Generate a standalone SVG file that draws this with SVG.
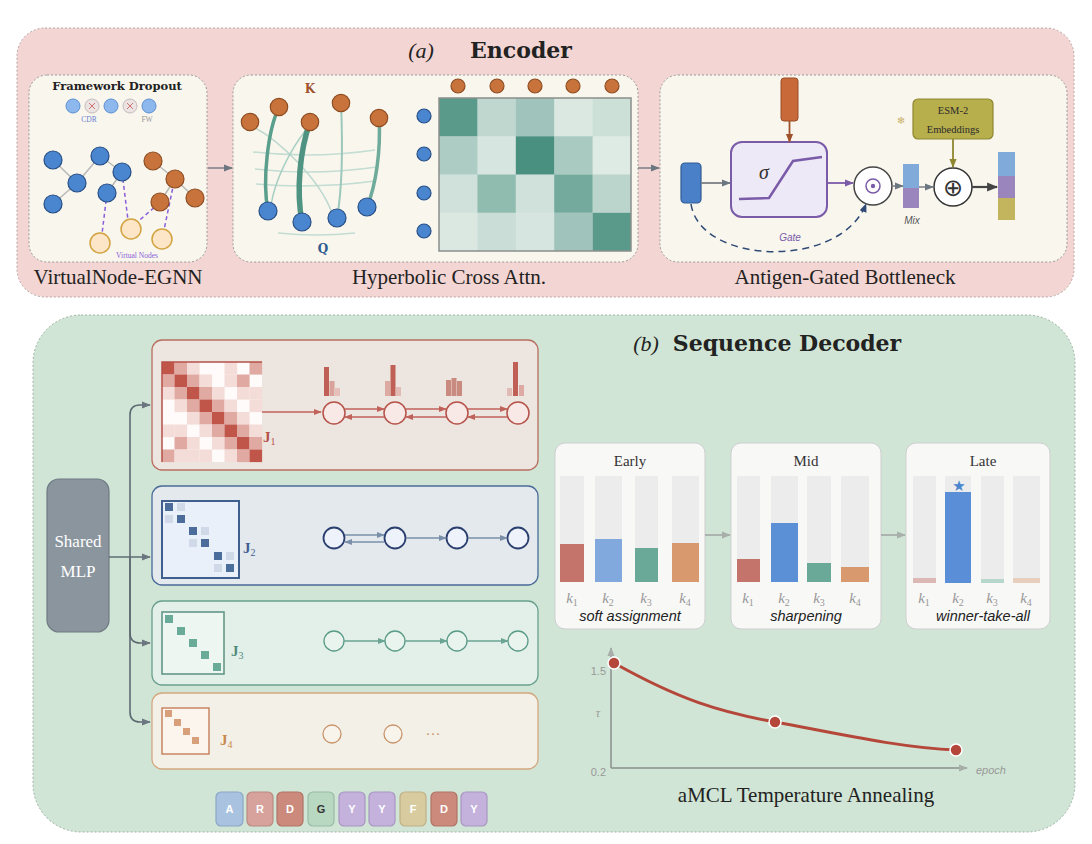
<svg xmlns="http://www.w3.org/2000/svg" width="1092" height="844" viewBox="0 0 1092 844">
<defs>
<style>
.serif{font-family:"Liberation Serif","DejaVu Serif",serif}
.bold{font-family:"DejaVu Serif","Liberation Serif",serif;font-weight:bold}
.sans{font-family:"Liberation Sans",Arial,sans-serif}
.sub{fill:#f9f6ee;stroke:#9a9a9a;stroke-width:1;stroke-dasharray:2 2}
.lbl{font-family:"Liberation Serif","DejaVu Serif",serif;font-size:21px;fill:#222;text-anchor:middle}
.on{fill:#c8733c;stroke:#8f4d22;stroke-width:1.2}
.bn{fill:#4a86d0;stroke:#274f85;stroke-width:1.2}
.vn{fill:#fde6c8;stroke:#d2a441;stroke-width:1.5}
.edge{stroke:#b8b8b8;stroke-width:1.5}
.vdash{stroke:#8a5fd8;stroke-width:1.5;stroke-dasharray:4 3;fill:none}
.geo{fill:none;stroke:#c3ddd3;stroke-width:1.5}
.r1{fill:#f4dcd8}.r2{fill:#e0a9a1}.r4{fill:#c0554a}
.att{fill:#3f8a79}
.bg{fill:#ececec}
.k{font-family:"Liberation Serif","DejaVu Serif",serif;font-style:italic;font-size:15px;fill:#999;text-anchor:middle}
.cap{font-family:"Liberation Sans",Arial,sans-serif;font-style:italic;font-size:14.5px;fill:#222;text-anchor:middle}
.stage{fill:#f8f8f7;stroke:#cfcfcf;stroke-width:1}
.tok{stroke-width:1.2}
.tl{font-family:"Liberation Sans",Arial,sans-serif;font-weight:bold;font-size:11px;fill:#fff;text-anchor:middle}
</style>
<marker id="aGray" viewBox="0 0 10 10" refX="9" refY="5" markerWidth="9" markerHeight="9" markerUnits="userSpaceOnUse" orient="auto"><path d="M0,1 L10,5 L0,9 z" fill="#6b7680"/></marker>
<marker id="aLight" viewBox="0 0 10 10" refX="9" refY="5" markerWidth="9" markerHeight="9" markerUnits="userSpaceOnUse" orient="auto"><path d="M0,1 L10,5 L0,9 z" fill="#a8aeaa"/></marker>
<marker id="aRed" viewBox="0 0 10 10" refX="9" refY="5" markerWidth="8" markerHeight="8" markerUnits="userSpaceOnUse" orient="auto"><path d="M0,1 L10,5 L0,9 z" fill="#c0625a"/></marker>
<marker id="aBlue" viewBox="0 0 10 10" refX="9" refY="5" markerWidth="8" markerHeight="8" markerUnits="userSpaceOnUse" orient="auto"><path d="M0,1 L10,5 L0,9 z" fill="#7a8fa8"/></marker>
<marker id="aTeal" viewBox="0 0 10 10" refX="9" refY="5" markerWidth="8" markerHeight="8" markerUnits="userSpaceOnUse" orient="auto"><path d="M0,1 L10,5 L0,9 z" fill="#6aa494"/></marker>
<marker id="aPurple" viewBox="0 0 10 10" refX="9" refY="5" markerWidth="9" markerHeight="9" markerUnits="userSpaceOnUse" orient="auto"><path d="M0,1 L10,5 L0,9 z" fill="#7a5ba8"/></marker>
<marker id="aOlive" viewBox="0 0 10 10" refX="9" refY="5" markerWidth="9" markerHeight="9" markerUnits="userSpaceOnUse" orient="auto"><path d="M0,1 L10,5 L0,9 z" fill="#8e8730"/></marker>
<marker id="aBrown" viewBox="0 0 10 10" refX="9" refY="5" markerWidth="9" markerHeight="9" markerUnits="userSpaceOnUse" orient="auto"><path d="M0,1 L10,5 L0,9 z" fill="#a0522d"/></marker>
<marker id="aDark" viewBox="0 0 10 10" refX="9" refY="5" markerWidth="11" markerHeight="11" markerUnits="userSpaceOnUse" orient="auto"><path d="M0,1 L10,5 L0,9 z" fill="#444"/></marker>
<marker id="aNavy" viewBox="0 0 10 10" refX="9" refY="5" markerWidth="9" markerHeight="9" markerUnits="userSpaceOnUse" orient="auto"><path d="M0,1 L10,5 L0,9 z" fill="#2f4a75"/></marker>
</defs>

<rect width="1092" height="844" fill="#ffffff"/>

<!-- Encoder panel -->
<g id="encoder-panel">
<rect x="17" y="28" width="1057" height="269" rx="28" fill="#f3d6d3" stroke="#b9a3a3" stroke-width="1" stroke-dasharray="2 2"/>
<text x="421" y="58" class="serif" font-size="22" font-style="italic" text-anchor="middle" fill="#222">(a)</text>
<text x="521" y="58" class="bold" font-size="22" text-anchor="middle" fill="#222">Encoder</text>
</g>

<g id="egnn">
<rect class="sub" x="29" y="75" width="178" height="187" rx="18"/>
<text x="117" y="90" class="bold" font-size="11.5" text-anchor="middle" fill="#222">Framework Dropout</text>
<circle cx="73" cy="106" r="7" fill="#8cb8ee" stroke="#5d8fd0"/>
<circle cx="92" cy="106" r="7" fill="#ebe4e2" stroke="#c4bcbc"/>
<path d="M89,103 L95,109 M95,103 L89,109" stroke="#d07070" stroke-width="1"/>
<circle cx="111" cy="106" r="7" fill="#8cb8ee" stroke="#5d8fd0"/>
<circle cx="130" cy="106" r="7" fill="#ebe4e2" stroke="#c4bcbc"/>
<path d="M127,103 L133,109 M133,103 L127,109" stroke="#d07070" stroke-width="1"/>
<circle cx="149" cy="106" r="7" fill="#8cb8ee" stroke="#5d8fd0"/>
<text x="89" y="122" class="serif" font-size="7.5" text-anchor="middle" fill="#6a7fd0">CDR</text>
<text x="147" y="122" class="serif" font-size="7.5" text-anchor="middle" fill="#999">FW</text>
<g class="edge">
<line x1="53" y1="160" x2="77" y2="183"/><line x1="77" y1="183" x2="100" y2="156"/><line x1="77" y1="183" x2="53" y2="204"/>
<line x1="100" y1="156" x2="122" y2="172"/><line x1="122" y1="172" x2="107" y2="193"/>
<line x1="153" y1="161" x2="175" y2="179"/><line x1="175" y1="179" x2="195" y2="198"/><line x1="175" y1="179" x2="160" y2="202"/>
</g>
<path class="vdash" d="M107,193 L102,234 M122,172 L128,220 M135,224 L156,206 M174,182 L164,230"/>
<circle class="bn" cx="53" cy="160" r="9"/><circle class="bn" cx="100" cy="156" r="9"/><circle class="bn" cx="77" cy="183" r="9"/>
<circle class="bn" cx="53" cy="204" r="9"/><circle class="bn" cx="122" cy="172" r="9"/><circle class="bn" cx="107" cy="193" r="9"/>
<circle class="on" cx="153" cy="161" r="9"/><circle class="on" cx="175" cy="179" r="9"/><circle class="on" cx="195" cy="198" r="9"/><circle class="on" cx="160" cy="202" r="9"/>
<circle class="vn" cx="100" cy="243" r="10"/><circle class="vn" cx="131" cy="229" r="10"/><circle class="vn" cx="162" cy="239" r="10"/>
<text x="137" y="258" class="serif" font-size="7.5" text-anchor="middle" fill="#8a5fd8">Virtual Nodes</text>
<text x="118" y="284" class="lbl">VirtualNode-EGNN</text>
</g>

<g id="hyperbolic">
<rect class="sub" x="233" y="75" width="405" height="187" rx="18"/>
<text x="310" y="93" class="bold" font-size="12" text-anchor="middle" fill="#a0522d">K</text>
<path class="geo" d="M253,152 Q314,159 375,150 M255,169 Q314,176 377,167 M256,184 Q316,189 375,181 M278,233 Q316,237 355,233"/>
<path d="M250,125 C280,140 320,180 332,213" fill="none" stroke="#bcd8ce" stroke-width="1.5"/>
<path d="M306,130 C290,150 275,180 271,205" fill="none" stroke="#a9cfc3" stroke-width="1.5"/>
<path d="M341,103 C343,150 342,190 337,218" fill="none" stroke="#9cc8bb" stroke-width="2"/>
<path d="M279,107 C268,130 262,180 268,211" fill="none" stroke="#5a9e8c" stroke-width="3.5"/>
<path d="M310,122 C300,150 296,190 302,222" fill="none" stroke="#4f9482" stroke-width="5.5"/>
<path d="M379,118 C381,150 376,185 367,207" fill="none" stroke="#6fab9b" stroke-width="3.5"/>
<circle class="on" cx="250" cy="122" r="8.7"/><circle class="on" cx="279" cy="107" r="8.7"/><circle class="on" cx="310" cy="122" r="8.7"/>
<circle class="on" cx="341" cy="103" r="8.7"/><circle class="on" cx="379" cy="118" r="8.7"/>
<circle class="bn" cx="268" cy="211" r="9"/><circle class="bn" cx="302" cy="222" r="9"/><circle class="bn" cx="337" cy="218" r="9"/><circle class="bn" cx="367" cy="207" r="9"/>
<text x="323" y="253" class="bold" font-size="12" text-anchor="middle" fill="#2f5a90">Q</text>
<rect x="439" y="98" width="192" height="153" fill="#f1f5f1"/>
<rect class="att" x="439" y="98" width="38.4" height="38.25" fill-opacity="0.85"/>
<rect class="att" x="477.4" y="98" width="38.4" height="38.25" fill-opacity="0.28"/>
<rect class="att" x="515.8" y="98" width="38.4" height="38.25" fill-opacity="0.45"/>
<rect class="att" x="554.2" y="98" width="38.4" height="38.25" fill-opacity="0.12"/>
<rect class="att" x="592.6" y="98" width="38.4" height="38.25" fill-opacity="0.2"/>
<rect class="att" x="439" y="136.25" width="38.4" height="38.25" fill-opacity="0.38"/>
<rect class="att" x="477.4" y="136.25" width="38.4" height="38.25" fill-opacity="0.15"/>
<rect class="att" x="515.8" y="136.25" width="38.4" height="38.25" fill-opacity="0.95"/>
<rect class="att" x="554.2" y="136.25" width="38.4" height="38.25" fill-opacity="0.4"/>
<rect class="att" x="592.6" y="136.25" width="38.4" height="38.25" fill-opacity="0.1"/>
<rect class="att" x="439" y="174.5" width="38.4" height="38.25" fill-opacity="0.18"/>
<rect class="att" x="477.4" y="174.5" width="38.4" height="38.25" fill-opacity="0.55"/>
<rect class="att" x="515.8" y="174.5" width="38.4" height="38.25" fill-opacity="0.18"/>
<rect class="att" x="554.2" y="174.5" width="38.4" height="38.25" fill-opacity="0.7"/>
<rect class="att" x="592.6" y="174.5" width="38.4" height="38.25" fill-opacity="0.3"/>
<rect class="att" x="439" y="212.75" width="38.4" height="38.25" fill-opacity="0.12"/>
<rect class="att" x="477.4" y="212.75" width="38.4" height="38.25" fill-opacity="0.22"/>
<rect class="att" x="515.8" y="212.75" width="38.4" height="38.25" fill-opacity="0.15"/>
<rect class="att" x="554.2" y="212.75" width="38.4" height="38.25" fill-opacity="0.45"/>
<rect class="att" x="592.6" y="212.75" width="38.4" height="38.25" fill-opacity="0.85"/>
<rect x="439" y="98" width="192" height="153" fill="none" stroke="#8a8f8c" stroke-width="1.5"/>
<circle class="on" cx="458" cy="86" r="7"/><circle class="on" cx="497" cy="86" r="7"/><circle class="on" cx="535" cy="86" r="7"/><circle class="on" cx="573" cy="86" r="7"/><circle class="on" cx="612" cy="86" r="7"/>
<circle class="bn" cx="424" cy="116" r="7"/><circle class="bn" cx="424" cy="154" r="7"/><circle class="bn" cx="424" cy="193" r="7"/><circle class="bn" cx="424" cy="231" r="7"/>
<text x="449" y="284" class="lbl">Hyperbolic Cross Attn.</text>
</g>

<g id="bottleneck">
<rect class="sub" x="660" y="75" width="407" height="187" rx="18"/>
<rect x="781" y="78" width="17" height="43" rx="3" fill="#c8693a" stroke="#9a4d25" stroke-width="1"/>
<rect x="731" y="142" width="96" height="75" rx="11" fill="#eee9f6" stroke="#7a5ba8" stroke-width="2"/>
<text x="764" y="179" class="serif" font-size="20" font-style="italic" fill="#333" text-anchor="middle">σ</text>
<path d="M739,199 L769,198 L793,161 L822,157" fill="none" stroke="#7a5ba8" stroke-width="2.5"/>
<rect x="681" y="163" width="20" height="40" rx="4" fill="#4a80c8" stroke="#2f5a95" stroke-width="1.2"/>
<circle cx="873" cy="186" r="19" fill="#fff" stroke="#444" stroke-width="1.5"/>
<circle cx="873" cy="186" r="7" fill="none" stroke="#7a5ba8" stroke-width="1.5"/>
<circle cx="873" cy="186" r="2.2" fill="#7a5ba8"/>
<text x="790" y="241" class="sans" font-size="10" font-style="italic" text-anchor="middle" fill="#7a5ba8">Gate</text>
<rect x="903" y="164" width="16" height="24" fill="#7faad9"/>
<rect x="903" y="188" width="16" height="20" fill="#9a86bd"/>
<text x="912" y="224" class="sans" font-size="10" font-style="italic" text-anchor="middle" fill="#555">Mix</text>
<circle cx="953" cy="187" r="19" fill="#fff" stroke="#333" stroke-width="1.5"/>
<text x="953" y="196" font-family="DejaVu Sans,sans-serif" font-size="24" text-anchor="middle" fill="#333">⊕</text>
<rect x="913" y="99" width="80" height="40" rx="5" fill="#b7ae4c" stroke="#8e8730" stroke-width="1.2"/>
<text x="953" y="114" class="serif" font-size="10.5" text-anchor="middle" fill="#2a2a2a">ESM-2</text>
<text x="953" y="133" class="serif" font-size="10.5" text-anchor="middle" fill="#2a2a2a">Embeddings</text>
<text x="901" y="124" font-family="DejaVu Sans,sans-serif" font-size="10" text-anchor="middle" fill="#c9b26a">❄</text>
<rect x="998" y="152" width="17" height="24" fill="#7faad9"/>
<rect x="998" y="176" width="17" height="22" fill="#9a86bd"/>
<rect x="998" y="198" width="17" height="22" fill="#c3b55e"/>
<text x="845" y="284" class="lbl">Antigen-Gated Bottleneck</text>
</g>

<!-- Decoder panel -->
<g id="decoder-panel">
<rect x="33" y="315" width="1042" height="517" rx="48" fill="#d0e5d5" stroke="#9fb3a6" stroke-width="1" stroke-dasharray="2 2"/>
<text x="646" y="351" class="serif" font-size="22" font-style="italic" text-anchor="middle" fill="#222">(b)</text>
<text x="787" y="351" class="bold" font-size="22" text-anchor="middle" fill="#222">Sequence Decoder</text>
</g>

<g id="shared-mlp">
<rect x="47" y="479" width="62" height="153" rx="12" fill="#8a959e" stroke="#6f7a83" stroke-width="1.2"/>
<text x="78" y="547" class="serif" font-size="17" text-anchor="middle" fill="#fff">Shared</text>
<text x="78" y="577" class="serif" font-size="17" text-anchor="middle" fill="#fff">MLP</text>
</g>

<g id="j1-head">
<rect x="152" y="340" width="386" height="130" rx="10" fill="#ede5df" stroke="#b86e60" stroke-width="1.3"/>
<rect x="162" y="362" width="100" height="100" fill="#fefbfa"/>
<rect class="r4" x="162" y="362" width="12.6" height="12.6"/><rect class="r2" x="174.5" y="362" width="12.6" height="12.6"/><rect class="r1" x="187" y="362" width="12.6" height="12.6"/><rect class="r1" x="224.5" y="362" width="12.6" height="12.6"/><rect class="r2" x="249.5" y="362" width="12.6" height="12.6"/>
<rect class="r2" x="162" y="374.5" width="12.6" height="12.6"/><rect class="r4" x="174.5" y="374.5" width="12.6" height="12.6"/><rect class="r2" x="187" y="374.5" width="12.6" height="12.6"/><rect class="r1" x="199.5" y="374.5" width="12.6" height="12.6"/><rect class="r1" x="224.5" y="374.5" width="12.6" height="12.6"/><rect class="r2" x="237" y="374.5" width="12.6" height="12.6"/>
<rect class="r1" x="162" y="387" width="12.6" height="12.6"/><rect class="r2" x="174.5" y="387" width="12.6" height="12.6"/><rect class="r4" x="187" y="387" width="12.6" height="12.6"/><rect class="r2" x="199.5" y="387" width="12.6" height="12.6"/><rect class="r1" x="212" y="387" width="12.6" height="12.6"/><rect class="r1" x="237" y="387" width="12.6" height="12.6"/><rect class="r1" x="249.5" y="387" width="12.6" height="12.6"/>
<rect class="r1" x="174.5" y="399.5" width="12.6" height="12.6"/><rect class="r2" x="187" y="399.5" width="12.6" height="12.6"/><rect class="r4" x="199.5" y="399.5" width="12.6" height="12.6"/><rect class="r2" x="212" y="399.5" width="12.6" height="12.6"/><rect class="r1" x="224.5" y="399.5" width="12.6" height="12.6"/><rect class="r1" x="249.5" y="399.5" width="12.6" height="12.6"/>
<rect class="r1" x="187" y="412" width="12.6" height="12.6"/><rect class="r2" x="199.5" y="412" width="12.6" height="12.6"/><rect class="r4" x="212" y="412" width="12.6" height="12.6"/><rect class="r2" x="224.5" y="412" width="12.6" height="12.6"/><rect class="r1" x="237" y="412" width="12.6" height="12.6"/>
<rect class="r1" x="162" y="424.5" width="12.6" height="12.6"/><rect class="r1" x="174.5" y="424.5" width="12.6" height="12.6"/><rect class="r1" x="199.5" y="424.5" width="12.6" height="12.6"/><rect class="r2" x="212" y="424.5" width="12.6" height="12.6"/><rect class="r4" x="224.5" y="424.5" width="12.6" height="12.6"/><rect class="r2" x="237" y="424.5" width="12.6" height="12.6"/><rect class="r1" x="249.5" y="424.5" width="12.6" height="12.6"/>
<rect class="r2" x="174.5" y="437" width="12.6" height="12.6"/><rect class="r1" x="187" y="437" width="12.6" height="12.6"/><rect class="r1" x="212" y="437" width="12.6" height="12.6"/><rect class="r2" x="224.5" y="437" width="12.6" height="12.6"/><rect class="r4" x="237" y="437" width="12.6" height="12.6"/><rect class="r2" x="249.5" y="437" width="12.6" height="12.6"/>
<rect class="r2" x="162" y="449.5" width="12.6" height="12.6"/><rect class="r1" x="174.5" y="449.5" width="12.6" height="12.6"/><rect class="r1" x="187" y="449.5" width="12.6" height="12.6"/><rect class="r1" x="199.5" y="449.5" width="12.6" height="12.6"/><rect class="r1" x="224.5" y="449.5" width="12.6" height="12.6"/><rect class="r2" x="237" y="449.5" width="12.6" height="12.6"/><rect class="r4" x="249.5" y="449.5" width="12.6" height="12.6"/>
<path d="M162,462 L162,362 L262,362" fill="none" stroke="#b5524a" stroke-width="1.5"/>
<text x="263" y="442" class="serif" font-size="15" font-weight="bold" fill="#b5524a">J<tspan font-size="10" font-weight="normal" dy="3">1</tspan></text>
<rect x="324" y="367" width="5" height="29" fill="#bf5f55"/><rect x="329.5" y="381" width="5" height="15" fill="#d9a39b"/><rect x="335" y="388" width="5" height="8" fill="#e6c1bb"/>
<rect x="385" y="381" width="5" height="15" fill="#dcaaa2"/><rect x="390.5" y="365" width="5" height="31" fill="#bf5f55"/><rect x="396" y="387" width="5" height="9" fill="#e3bbb5"/>
<rect x="446" y="380" width="5" height="16" fill="#c98a80"/><rect x="451.5" y="378" width="5" height="18" fill="#c98a80"/><rect x="457" y="381" width="5" height="15" fill="#c98a80"/>
<rect x="507" y="388" width="5" height="8" fill="#e3bbb5"/><rect x="513" y="362" width="5" height="34" fill="#bf5f55"/><rect x="519" y="385" width="5" height="11" fill="#dcaaa2"/>
<circle cx="334" cy="413" r="11" fill="#f8e9e6" stroke="#b5524a" stroke-width="1.5"/>
<circle cx="395" cy="413" r="11" fill="#f8e9e6" stroke="#b5524a" stroke-width="1.5"/>
<circle cx="457" cy="413" r="11" fill="#f8e9e6" stroke="#b5524a" stroke-width="1.5"/>
<circle cx="518" cy="413" r="11" fill="#f8e9e6" stroke="#b5524a" stroke-width="1.5"/>
</g>

<g id="j2-head">
<rect x="152" y="486" width="386" height="99" rx="10" fill="#e4e9ee" stroke="#4a6a99" stroke-width="1.3"/>
<rect x="162" y="501" width="77" height="77" fill="#eaf0fa" stroke="#3f5f8f" stroke-width="2"/>
<g fill="#4a6d9c"><rect x="165" y="503" width="8" height="8"/><rect x="177" y="515" width="8" height="8"/><rect x="189" y="527" width="8" height="8"/><rect x="201" y="539" width="8" height="8"/><rect x="214" y="552" width="8" height="8"/><rect x="226" y="564" width="8" height="8"/></g>
<g fill="#cfd9e8"><rect x="177" y="503" width="8" height="8"/><rect x="165" y="515" width="8" height="8"/><rect x="201" y="527" width="8" height="8"/><rect x="189" y="539" width="8" height="8"/><rect x="226" y="552" width="8" height="8"/><rect x="214" y="564" width="8" height="8"/></g>
<text x="243" y="553" class="serif" font-size="15" font-weight="bold" fill="#3f5f8f">J<tspan font-size="10" font-weight="normal" dy="3">2</tspan></text>
<circle cx="334" cy="538" r="10.5" fill="#eef2fa" stroke="#2a3f6f" stroke-width="1.8"/>
<circle cx="395" cy="538" r="10.5" fill="#eef2fa" stroke="#2a3f6f" stroke-width="1.8"/>
<circle cx="457" cy="538" r="10.5" fill="#eef2fa" stroke="#2a3f6f" stroke-width="1.8"/>
<circle cx="518" cy="538" r="10.5" fill="#eef2fa" stroke="#2a3f6f" stroke-width="1.8"/>
</g>

<g id="j3-head">
<rect x="152" y="601" width="386" height="84" rx="10" fill="#e3f0ea" stroke="#6aa08e" stroke-width="1.3"/>
<rect x="162" y="612" width="62" height="62" fill="#eef6f2" stroke="#5a9080" stroke-width="1.5"/>
<g fill="#6aaa98"><rect x="165" y="615" width="8" height="8"/><rect x="177" y="627" width="8" height="8"/><rect x="189" y="639" width="8" height="8"/><rect x="201" y="651" width="8" height="8"/><rect x="213" y="663" width="8" height="8"/></g>
<text x="231" y="656" class="serif" font-size="15" font-weight="bold" fill="#4f8a7a">J<tspan font-size="10" font-weight="normal" dy="3">3</tspan></text>
<circle cx="334" cy="641" r="10" fill="#eaf4ef" stroke="#5a9a88" stroke-width="1.3"/>
<circle cx="395" cy="641" r="10" fill="#eaf4ef" stroke="#5a9a88" stroke-width="1.3"/>
<circle cx="457" cy="641" r="10" fill="#eaf4ef" stroke="#5a9a88" stroke-width="1.3"/>
<circle cx="518" cy="641" r="10" fill="#eaf4ef" stroke="#5a9a88" stroke-width="1.3"/>
</g>

<g id="j4-head">
<rect x="152" y="693" width="386" height="76" rx="10" fill="#f3f0e8" stroke="#d4a880" stroke-width="1.3"/>
<rect x="162" y="708" width="47" height="46" fill="#fbf5ee" stroke="#c0764f" stroke-width="1.3"/>
<g fill="#d8a07a"><rect x="165" y="710" width="7" height="7"/><rect x="174" y="719" width="7" height="7"/><rect x="183" y="728" width="7" height="7"/><rect x="192" y="737" width="7" height="7"/></g>
<text x="220" y="745" class="serif" font-size="15" font-weight="bold" fill="#c8884f">J<tspan font-size="10" font-weight="normal" dy="3">4</tspan></text>
<circle cx="332" cy="734" r="9" fill="#f8f4ec" stroke="#c8946a" stroke-width="1.3"/>
<circle cx="393" cy="734" r="9" fill="#f8f4ec" stroke="#c8946a" stroke-width="1.3"/>
<text x="433" y="739" class="serif" font-size="15" text-anchor="middle" fill="#c8946a">···</text>
</g>

<g id="sequence-tokens">
<rect class="tok" x="216" y="792" width="27" height="34" rx="5" fill="#a9c2e0" stroke="#8ba6c8"/><text class="tl" x="229.5" y="813">A</text>
<rect class="tok" x="247" y="792" width="26" height="34" rx="5" fill="#d6a29b" stroke="#b98a84"/><text class="tl" x="260" y="813">R</text>
<rect class="tok" x="277" y="792" width="26" height="34" rx="5" fill="#cc8a7c" stroke="#b07366"/><text class="tl" x="290" y="813">D</text>
<rect class="tok" x="308" y="792" width="26" height="34" rx="5" fill="#b8d8c1" stroke="#98bba3"/><text class="tl" x="321" y="813" fill="#333" style="fill:#333">G</text>
<rect class="tok" x="339" y="792" width="26" height="34" rx="5" fill="#c4b2dc" stroke="#a796c2"/><text class="tl" x="352" y="813">Y</text>
<rect class="tok" x="369" y="792" width="26" height="34" rx="5" fill="#c4b2dc" stroke="#a796c2"/><text class="tl" x="382" y="813">Y</text>
<rect class="tok" x="400" y="792" width="26" height="34" rx="5" fill="#d9cba0" stroke="#bfb087"/><text class="tl" x="413" y="813">F</text>
<rect class="tok" x="431" y="792" width="26" height="34" rx="5" fill="#cc8a7c" stroke="#b07366"/><text class="tl" x="444" y="813">D</text>
<rect class="tok" x="461" y="792" width="26" height="34" rx="5" fill="#c4b2dc" stroke="#a796c2"/><text class="tl" x="474" y="813">Y</text>
</g>

<g id="stage-early">
<rect class="stage" x="555" y="443" width="150" height="186" rx="10"/>
<text x="630" y="466" class="serif" font-size="15" text-anchor="middle" fill="#333">Early</text>
<rect class="bg" x="560" y="476" width="24" height="106"/><rect class="bg" x="595" y="476" width="27" height="106"/><rect class="bg" x="635" y="476" width="23" height="106"/><rect class="bg" x="672" y="476" width="27" height="106"/>
<rect x="560" y="544" width="24" height="38" fill="#c4746a"/><rect x="595" y="539" width="27" height="43" fill="#82a9dd"/><rect x="635" y="548" width="23" height="34" fill="#6aa898"/><rect x="672" y="543" width="27" height="39" fill="#d9996e"/>
<text class="k" x="572" y="603">k<tspan font-size="10" font-style="normal" dy="3">1</tspan></text>
<text class="k" x="608" y="603">k<tspan font-size="10" font-style="normal" dy="3">2</tspan></text>
<text class="k" x="646" y="603">k<tspan font-size="10" font-style="normal" dy="3">3</tspan></text>
<text class="k" x="685" y="603">k<tspan font-size="10" font-style="normal" dy="3">4</tspan></text>
<text class="cap" x="630" y="621">soft assignment</text>
</g>

<g id="stage-mid">
<rect class="stage" x="731" y="443" width="150" height="186" rx="10"/>
<text x="806" y="466" class="serif" font-size="15" text-anchor="middle" fill="#333">Mid</text>
<rect class="bg" x="737" y="476" width="23" height="106"/><rect class="bg" x="771" y="476" width="27" height="106"/><rect class="bg" x="807" y="476" width="24" height="106"/><rect class="bg" x="841" y="476" width="28" height="106"/>
<rect x="737" y="559" width="23" height="23" fill="#c4746a"/><rect x="771" y="523" width="27" height="59" fill="#5b8fd6"/><rect x="807" y="563" width="24" height="19" fill="#6aa898"/><rect x="841" y="567" width="28" height="15" fill="#d9996e"/>
<text class="k" x="748" y="603">k<tspan font-size="10" font-style="normal" dy="3">1</tspan></text>
<text class="k" x="784" y="603">k<tspan font-size="10" font-style="normal" dy="3">2</tspan></text>
<text class="k" x="819" y="603">k<tspan font-size="10" font-style="normal" dy="3">3</tspan></text>
<text class="k" x="855" y="603">k<tspan font-size="10" font-style="normal" dy="3">4</tspan></text>
<text class="cap" x="806" y="621">sharpening</text>
</g>

<g id="stage-late">
<rect class="stage" x="906" y="443" width="144" height="186" rx="10"/>
<text x="983" y="466" class="serif" font-size="15" text-anchor="middle" fill="#333">Late</text>
<rect class="bg" x="913" y="476" width="23" height="107"/><rect class="bg" x="945" y="476" width="26" height="107"/><rect class="bg" x="981" y="476" width="23" height="107"/><rect class="bg" x="1013" y="476" width="27" height="107"/>
<rect x="913" y="578" width="23" height="5" fill="#dcb8b4"/><rect x="945" y="492" width="26" height="91" fill="#5a8fd8"/><rect x="981" y="579" width="23" height="4" fill="#b7d6cc"/><rect x="1013" y="578" width="27" height="5" fill="#e8cfbd"/>
<text x="959" y="491" font-family="DejaVu Sans,sans-serif" font-size="15" text-anchor="middle" fill="#4a86d0">★</text>
<text class="k" x="924" y="603">k<tspan font-size="10" font-style="normal" dy="3">1</tspan></text>
<text class="k" x="958" y="603">k<tspan font-size="10" font-style="normal" dy="3">2</tspan></text>
<text class="k" x="992" y="603">k<tspan font-size="10" font-style="normal" dy="3">3</tspan></text>
<text class="k" x="1026" y="603">k<tspan font-size="10" font-style="normal" dy="3">4</tspan></text>
<text class="cap" x="983" y="621">winner-take-all</text>
</g>

<g id="temperature-chart">
<line x1="611" y1="768" x2="611" y2="648" stroke="#8a8f8c" stroke-width="1.5" marker-end="url(#aLight)"/>
<line x1="611" y1="768" x2="967" y2="768" stroke="#8a8f8c" stroke-width="1.5" marker-end="url(#aLight)"/>
<text x="606" y="675" class="sans" font-size="11" text-anchor="end" fill="#999">1.5</text>
<text x="598" y="717" class="serif" font-size="12" font-style="italic" text-anchor="middle" fill="#999">τ</text>
<text x="606" y="776" class="sans" font-size="11" text-anchor="end" fill="#999">0.2</text>
<text x="976" y="774" class="sans" font-size="11" font-style="italic" fill="#999">epoch</text>
<path d="M614,663 C680,700 720,712 775,722 S900,748 956,750" fill="none" stroke="#b5473a" stroke-width="3"/>
<circle cx="614" cy="663" r="6" fill="#b5473a" stroke="#fff" stroke-width="1.5"/>
<circle cx="775" cy="722" r="6" fill="#b5473a" stroke="#fff" stroke-width="1.5"/>
<circle cx="956" cy="750" r="6" fill="#b5473a" stroke="#fff" stroke-width="1.5"/>
<text x="806" y="802" class="lbl">aMCL Temperature Annealing</text>
</g>

<g id="connectors" fill="none">
<line x1="208" y1="168" x2="232" y2="168" stroke="#7a7f84" stroke-width="1.5" marker-end="url(#aGray)"/>
<line x1="638" y1="168" x2="659" y2="168" stroke="#7a7f84" stroke-width="1.5" marker-end="url(#aGray)"/>
<line x1="789.5" y1="121" x2="789.5" y2="142" stroke="#a0522d" stroke-width="1.8" marker-end="url(#aBrown)"/>
<line x1="701" y1="183" x2="730" y2="183" stroke="#7a7f84" stroke-width="1.8" marker-end="url(#aGray)"/>
<line x1="827" y1="183" x2="853" y2="183" stroke="#7a5ba8" stroke-width="1.8" marker-end="url(#aPurple)"/>
<path d="M691,204 C700,265 840,270 866,204" stroke="#2f4a75" stroke-width="1.5" stroke-dasharray="7 5" marker-end="url(#aNavy)"/>
<line x1="892" y1="186" x2="903" y2="186" stroke="#7a7f84" stroke-width="1.5" marker-end="url(#aGray)"/>
<line x1="919" y1="187" x2="933" y2="187" stroke="#7a7f84" stroke-width="1.5" marker-end="url(#aGray)"/>
<line x1="953" y1="139" x2="953" y2="167" stroke="#8e8730" stroke-width="1.8" marker-end="url(#aOlive)"/>
<line x1="972" y1="187" x2="997" y2="187" stroke="#444" stroke-width="2.2" marker-end="url(#aDark)"/>
<g stroke="#5f6b73" stroke-width="1.6">
<path d="M109,557 L150,557" marker-end="url(#aGray)"/>
<path d="M130,557 L130,415 Q130,405 140,405 L150,405" marker-end="url(#aGray)"/>
<path d="M130,557 L130,633 Q130,643 140,643 L150,643" marker-end="url(#aGray)"/>
<path d="M130,557 L130,712 Q130,722 140,722 L150,722" marker-end="url(#aGray)"/>
</g>
<line x1="262" y1="412" x2="321" y2="412" stroke="#c0625a" stroke-width="1.3" marker-end="url(#aRed)"/>
<g stroke="#c0625a" stroke-width="1.3">
<line x1="345" y1="409" x2="384" y2="409" marker-end="url(#aRed)"/><line x1="384" y1="417" x2="345" y2="417" marker-end="url(#aRed)"/>
<line x1="406" y1="409" x2="446" y2="409" marker-end="url(#aRed)"/><line x1="446" y1="417" x2="406" y2="417" marker-end="url(#aRed)"/>
<line x1="468" y1="409" x2="507" y2="409" marker-end="url(#aRed)"/><line x1="507" y1="417" x2="468" y2="417" marker-end="url(#aRed)"/>
</g>
<g stroke="#7a8fa8" stroke-width="1.3">
<line x1="345" y1="535" x2="384" y2="535" marker-end="url(#aBlue)"/><line x1="384" y1="542" x2="345" y2="542" marker-end="url(#aBlue)"/>
<line x1="406" y1="538" x2="446" y2="538" marker-end="url(#aBlue)"/>
<line x1="468" y1="538" x2="507" y2="538" marker-end="url(#aBlue)"/>
</g>
<g stroke="#6aa494" stroke-width="1.3">
<line x1="344" y1="641" x2="385" y2="641" marker-end="url(#aTeal)"/>
<line x1="405" y1="641" x2="447" y2="641" marker-end="url(#aTeal)"/>
<line x1="467" y1="641" x2="508" y2="641" marker-end="url(#aTeal)"/>
</g>
<line x1="705" y1="535" x2="730" y2="535" stroke="#a8aeaa" stroke-width="1.8" marker-end="url(#aLight)"/>
<line x1="881" y1="535" x2="905" y2="535" stroke="#a8aeaa" stroke-width="1.8" marker-end="url(#aLight)"/>
</g>
</svg>
